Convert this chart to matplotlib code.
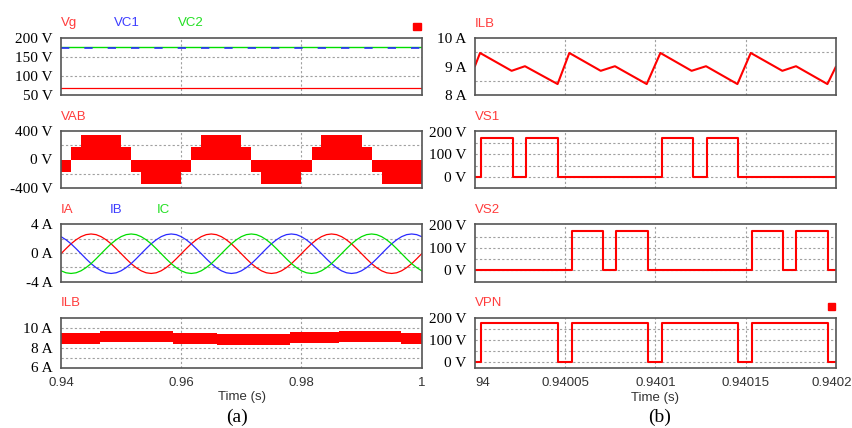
import numpy as np
import matplotlib.pyplot as plt
from matplotlib.patches import Rectangle

plt.rcParams['font.family'] = 'sans-serif'
plt.rcParams['font.sans-serif'] = ['Liberation Sans', 'DejaVu Sans']

# ---- (a) 0.94 s .. 1 s ----
vg = 69.0          # grid voltage (V)
vc1 = 174.0        # capacitor voltages (V)
vc2 = 174.5

# VAB staircase envelope (step, post)
vab_t = [0.94, 0.94167, 0.94333, 0.95, 0.95167, 0.95333, 0.96, 0.96167, 0.96333,
         0.97, 0.97167, 0.97333, 0.98, 0.98167, 0.98333, 0.99, 0.99167, 0.99333, 1.0]
vab_v = [-175, 175, 350, 175, -175, -350, -175, 175, 350,
         175, -175, -350, -175, 175, 350, 175, -175, -350, -350]

# phase currents, read every 15 deg (0.02/24 s)
ia = [-0.10, 0.61, 1.28, 1.84, 2.28, 2.56, 2.65, 2.56, 2.28, 1.84, 1.28, 0.61,
      -0.10, -0.81, -1.48, -2.04, -2.48, -2.76, -2.85, -2.76, -2.48, -2.04, -1.48, -0.81,
      -0.10, 0.61, 1.28, 1.84, 2.28, 2.56, 2.65, 2.56, 2.28, 1.84, 1.28, 0.61,
      -0.10, -0.81, -1.48, -2.04, -2.48, -2.76, -2.85, -2.76, -2.48, -2.04, -1.48, -0.81,
      -0.10, 0.61, 1.28, 1.84, 2.28, 2.56, 2.65, 2.56, 2.28, 1.84, 1.28, 0.61,
      -0.10, -0.81, -1.48, -2.04, -2.48, -2.76, -2.85, -2.76, -2.48, -2.04, -1.48, -0.81,
      -0.10]
ib = [2.28, 1.84, 1.28, 0.61, -0.10, -0.81, -1.48, -2.04, -2.48, -2.76, -2.85, -2.76,
      -2.48, -2.04, -1.48, -0.81, -0.10, 0.61, 1.28, 1.84, 2.28, 2.56, 2.65, 2.56,
      2.28, 1.84, 1.28, 0.61, -0.10, -0.81, -1.48, -2.04, -2.48, -2.76, -2.85, -2.76,
      -2.48, -2.04, -1.48, -0.81, -0.10, 0.61, 1.28, 1.84, 2.28, 2.56, 2.65, 2.56,
      2.28, 1.84, 1.28, 0.61, -0.10, -0.81, -1.48, -2.04, -2.48, -2.76, -2.85, -2.76,
      -2.48, -2.04, -1.48, -0.81, -0.10, 0.61, 1.28, 1.84, 2.28, 2.56, 2.65, 2.56,
      2.28]
ic = [-2.48, -2.76, -2.85, -2.76, -2.48, -2.04, -1.48, -0.81, -0.10, 0.61, 1.28, 1.84,
      2.28, 2.56, 2.65, 2.56, 2.28, 1.84, 1.28, 0.61, -0.10, -0.81, -1.48, -2.04,
      -2.48, -2.76, -2.85, -2.76, -2.48, -2.04, -1.48, -0.81, -0.10, 0.61, 1.28, 1.84,
      2.28, 2.56, 2.65, 2.56, 2.28, 1.84, 1.28, 0.61, -0.10, -0.81, -1.48, -2.04,
      -2.48, -2.76, -2.85, -2.76, -2.48, -2.04, -1.48, -0.81, -0.10, 0.61, 1.28, 1.84,
      2.28, 2.56, 2.65, 2.56, 2.28, 1.84, 1.28, 0.61, -0.10, -0.81, -1.48, -2.04,
      -2.48]

# ILB ripple band (min/max envelope)
ilb_band_t = [0.94, 0.9465, 0.9587, 0.9659, 0.9781, 0.9862, 0.9965, 1.0]
ilb_band_hi = [9.45, 9.65, 9.45, 9.33, 9.55, 9.67, 9.45, 9.45]
ilb_band_lo = [8.38, 8.55, 8.38, 8.30, 8.50, 8.57, 8.38, 8.38]

# ---- (b) zoom, times in microseconds after 0.94 s ----
ilb_us = [0, 2.8, 20.3, 27.7, 45.8, 52.3, 69.7, 77.6, 95.2, 102.8, 120.1, 128.1,
          145.5, 152.9, 170.4, 178.0, 195.4, 200]
ilb_a = [9.02, 9.47, 8.85, 9.01, 8.39, 9.47, 8.85, 9.01, 8.39, 9.47, 8.85, 9.01,
         8.39, 9.47, 8.85, 9.01, 8.39, 8.98]

vs1_us = [0, 3.3, 20.9, 28.1, 45.8, 103.5, 120.7, 128.5, 145.7, 200]
vs1_v = [0, 175, 0, 175, 0, 175, 0, 175, 0, 0]
vs2_us = [0, 53.6, 70.8, 78.2, 95.7, 153.4, 171.0, 178.0, 195.9, 200]
vs2_v = [0, 175, 0, 175, 0, 175, 0, 175, 0, 0]
vpn_us = [0, 3.3, 45.8, 53.6, 95.7, 103.5, 146.0, 153.4, 195.9, 200]
vpn_v = [0, 175, 0, 175, 0, 175, 0, 175, 0, 0]

left_ticks = [0.94, 0.96, 0.98, 1.0]
left_labels = ['0.94', '0.96', '0.98', '1']
right_ticks = [0.94, 0.94005, 0.9401, 0.94015, 0.9402]
right_labels = ['94', '0.94005', '0.9401', '0.94015', '0.9402']

RED, BLUE, GREEN = '#ff0000', '#2a2aff', '#00dd00'
TRED, TBLUE, TGREEN = '#ff3c3c', '#3c3cff', '#22e022'
GRID = '#a0a0a0'
FRAME = '#555555'

W, H = 853, 428
fig = plt.figure(figsize=(W / 100, H / 100), dpi=100)


def px_axes(x0, x1, y0, y1):
    return fig.add_axes([x0 / W, 1 - y1 / H, (x1 - x0) / W, (y1 - y0) / H])


def style(ax, xlim, xgrid, ylim, yticks, ylabels, ygrid):
    ax.set_xlim(xlim)
    ax.set_ylim(ylim)
    for x in xgrid:
        ax.axvline(x, color=GRID, lw=0.8, ls=(0, (2, 2)), zorder=0)
    for y in ygrid:
        ax.axhline(y, color=GRID, lw=0.8, ls=(0, (2, 2)), zorder=0)
    ax.set_yticks(yticks)
    ax.set_yticklabels(ylabels, fontfamily='Liberation Serif', fontsize=11)
    ax.set_xticks([])
    ax.tick_params(length=0, pad=6)
    for sp in ax.spines.values():
        sp.set_color(FRAME)
        sp.set_linewidth(1.2)


def tag(x, y, s, c):
    fig.text(x / W, 1 - y / H, s, color=c, fontsize=9.5, va='center', ha='left')


rows = [(37.7, 95.3), (131.0, 188.0), (224.3, 281.7), (317.7, 367.5)]
LX0, LX1 = 61.0, 421.7
RX0, RX1 = 475.0, 835.7
lgrid = [0.96, 0.98]
rgrid = [0.94005, 0.9401, 0.94015]

# --- left column ---
ax = px_axes(LX0, LX1, *rows[0])
ax.axhline(vg, color=RED, lw=0.9)
ax.axhline(vc2, color=GREEN, lw=1.0)
ax.axhline(vc1, color=BLUE, lw=1.2, ls=(0, (5, 9)))
style(ax, (0.94, 1.0), lgrid, (50, 200), [50, 100, 150, 200],
      ['50 V', '100 V', '150 V', '200 V'], [100, 150])
tag(61, 23, 'Vg', TRED)
tag(114, 23, 'VC1', TBLUE)
tag(178, 23, 'VC2', TGREEN)

ax = px_axes(LX0, LX1, *rows[1])
ax.fill_between(vab_t, 0, vab_v, step='post', color=RED, lw=0)
style(ax, (0.94, 1.0), lgrid, (-400, 400), [-400, 0, 400],
      ['-400 V', '0 V', '400 V'], [-200, 200])
tag(61, 117, 'VAB', TRED)

ax = px_axes(LX0, LX1, *rows[2])
t_ph = np.linspace(0.94, 1.0, len(ia))
ax.plot(t_ph, ia, color=RED, lw=0.9)
ax.plot(t_ph, ib, color=BLUE, lw=0.9)
ax.plot(t_ph, ic, color=GREEN, lw=0.9)
style(ax, (0.94, 1.0), lgrid, (-4, 4), [-4, 0, 4],
      ['-4 A', '0 A', '4 A'], [-2, 0, 2])
tag(61, 210, 'IA', TRED)
tag(110, 210, 'IB', TBLUE)
tag(157, 210, 'IC', TGREEN)

ax = px_axes(LX0, LX1, *rows[3])
ax.fill_between(ilb_band_t, ilb_band_lo, ilb_band_hi, step='post', color=RED, lw=0)
style(ax, (0.94, 1.0), lgrid, (6, 11), [6, 8, 10],
      ['6 A', '8 A', '10 A'], [7, 8, 9, 10])
ax.set_xticks(left_ticks)
ax.set_xticklabels(left_labels, fontsize=9.5, color='#333333')
ax.tick_params(axis='x', pad=7)
tag(61, 303, 'ILB', TRED)

# --- right column ---
to_s = lambda us: 0.94 + np.asarray(us) * 1e-6

ax = px_axes(RX0, RX1, *rows[0])
ax.plot(to_s(ilb_us), ilb_a, color=RED, lw=1.5)
style(ax, (0.94, 0.9402), rgrid, (8, 10), [8, 9, 10],
      ['8 A', '9 A', '10 A'], [8.5, 9.5])
tag(475, 24, 'ILB', TRED)

ax = px_axes(RX0, RX1, *rows[1])
ax.step(to_s(vs1_us), vs1_v, where='post', color=RED, lw=1.5)
style(ax, (0.94, 0.9402), rgrid, (-50, 205), [0, 100, 200],
      ['0 V', '100 V', '200 V'], [0, 50, 100, 150])
tag(475, 117, 'VS1', TRED)

ax = px_axes(RX0, RX1, *rows[2])
ax.step(to_s(vs2_us), vs2_v, where='post', color=RED, lw=1.5)
style(ax, (0.94, 0.9402), rgrid, (-50, 205), [0, 100, 200],
      ['0 V', '100 V', '200 V'], [0, 50, 100, 150])
tag(475, 210, 'VS2', TRED)

ax = px_axes(RX0, RX1, *rows[3])
ax.step(to_s(vpn_us), vpn_v, where='post', color=RED, lw=1.5)
style(ax, (0.94, 0.9402), rgrid, (-24, 200), [0, 100, 200],
      ['0 V', '100 V', '200 V'], [0, 50, 100, 150])
ax.set_xticks(right_ticks)
lbls = ax.set_xticklabels(right_labels[:-1] + [''], fontsize=9.5, color='#333333')
lbls[0].set_horizontalalignment('left')
ax.tick_params(axis='x', pad=7)
# last label sits against the figure edge
fig.text(852 / W, 1 - 383.5 / H, right_labels[-1], fontsize=9.5, color='#333333',
         ha='right', va='center')
tag(475, 303, 'VPN', TRED)

# axis titles and captions
fig.text(241.7 / W, 1 - 397 / H, 'Time (s)', fontsize=9.5, color='#333333',
         ha='center', va='center')
fig.text(655 / W, 1 - 397.5 / H, 'Time (s)', fontsize=9.5, color='#333333',
         ha='center', va='center')
fig.text(237 / W, 1 - 417 / H, '(a)', fontsize=14, fontfamily='Liberation Serif',
         ha='center', va='center')
fig.text(660 / W, 1 - 417 / H, '(b)', fontsize=14, fontfamily='Liberation Serif',
         ha='center', va='center')

# small red markers in the corners
fig.patches.append(Rectangle((413 / W, 1 - 30 / H), 8 / W, 7 / H,
                             transform=fig.transFigure, color=RED))
fig.patches.append(Rectangle((828 / W, 1 - 309.5 / H), 7 / W, 6.5 / H,
                             transform=fig.transFigure, color=RED))

fig.savefig('out.png', dpi=100)
